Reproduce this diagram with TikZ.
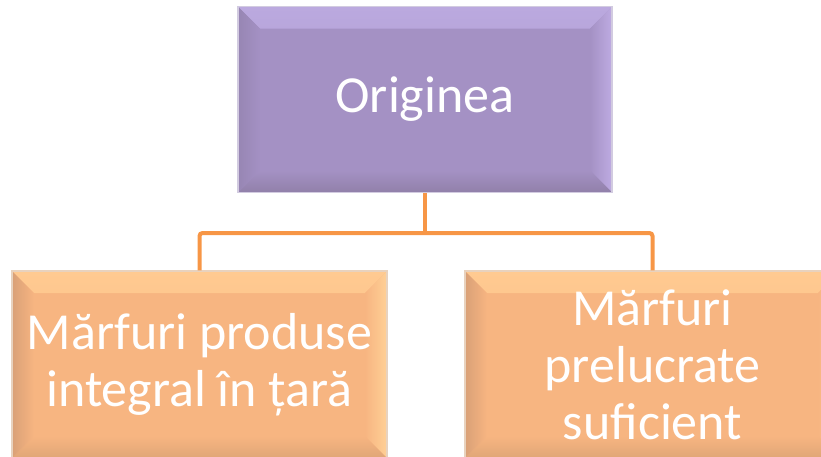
\documentclass[tikz,border=0pt]{standalone}
\usepackage{fontspec}
\setmainfont{Carlito}
\definecolor{pmain}{HTML}{A491C4}
\definecolor{ptop}{HTML}{BBA9DF}
\definecolor{pright}{HTML}{BEABE2}
\definecolor{pbottom}{HTML}{9180A9}
\definecolor{pleft}{HTML}{9786B3}
\definecolor{pline}{HTML}{D2CBE0}
\definecolor{omain}{HTML}{F7B581}
\definecolor{otop}{HTML}{FFCA91}
\definecolor{oright}{HTML}{FFD096}
\definecolor{obottom}{HTML}{E0A677}
\definecolor{oleft}{HTML}{D9A077}
\definecolor{oline}{HTML}{E8D2BE}
\definecolor{conn}{HTML}{F79646}
\newcommand{\boxlines}[2]{\raisebox{#1}{\parbox{370pt}{\centering #2}}}
\tikzset{
  bevel/.style n args={5}{
    fill=#1,
    path picture={
      \shade[top color=#2, bottom color=#1] (path picture bounding box.north west) -- (path picture bounding box.north east)
        -- ([xshift=-22pt,yshift=-22pt]path picture bounding box.north east)
        -- ([xshift=22pt,yshift=-22pt]path picture bounding box.north west) -- cycle;
      \shade[left color=#1, right color=#3] (path picture bounding box.north east) -- (path picture bounding box.south east)
        -- ([xshift=-22pt,yshift=22pt]path picture bounding box.south east)
        -- ([xshift=-22pt,yshift=-22pt]path picture bounding box.north east) -- cycle;
      \shade[top color=#1, bottom color=#4] (path picture bounding box.south east) -- (path picture bounding box.south west)
        -- ([xshift=22pt,yshift=22pt]path picture bounding box.south west)
        -- ([xshift=-22pt,yshift=22pt]path picture bounding box.south east) -- cycle;
      \shade[left color=#5, right color=#1] (path picture bounding box.south west) -- (path picture bounding box.north west)
        -- ([xshift=22pt,yshift=-22pt]path picture bounding box.north west)
        -- ([xshift=22pt,yshift=22pt]path picture bounding box.south west) -- cycle;
    }
  },
  boxtext/.style={rectangle, inner sep=0pt, text=white, align=center,
    font=\fontsize{52}{57}\selectfont},
  pbox/.style={boxtext, bevel={pmain}{ptop}{pright}{pbottom}{pleft}, draw=pline, line width=1.5pt,
    minimum width=374pt, minimum height=186pt},
  obox/.style={boxtext, bevel={omain}{otop}{oright}{obottom}{oleft}, draw=oline, line width=1.5pt,
    minimum width=375pt, minimum height=187pt},
  connector/.style={draw=conn, line width=4pt, rounded corners=3pt}
}
\begin{document}
\begin{tikzpicture}[x=1pt,y=-1pt]
\useasboundingbox (0,0) rectangle (821,456);
\node[pbox] (top) at (425,99.5) {\raisebox{-3pt}{Originea}};
\node[obox] (left) at (199.5,364.5) {\boxlines{-4pt}{Mărfuri produse\\integral în țară}};
\node[obox] (right) at (652.5,364.5) {Mărfuri\\prelucrate\\suficient};
\coordinate (j) at (425,233);
\draw[connector] (top.south) -- (j);
\draw[connector] (left.north) |- (j) -| (right.north);
\end{tikzpicture}
\end{document}
